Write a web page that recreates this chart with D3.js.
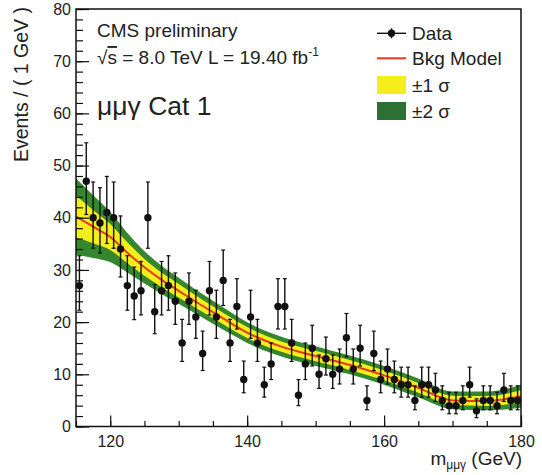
<!DOCTYPE html>
<html>
<head>
<meta charset="utf-8">
<script src="https://cdn.jsdelivr.net/npm/d3@7"></script>
<style>
  html, body { margin: 0; padding: 0; background: #fff; }
  svg { display: block; font-family: "Liberation Sans", Arial, Helvetica, sans-serif; }
</style>
</head>
<body>
<svg id="chart" width="542" height="475"></svg>
<script>
// ---- Data ----
const binCenters = d3.range(115.5, 180, 1);
const counts = [27, 47, 40, 39, 41, 40, 34, 27, 25, 26,
                40, 22, 26, 27, 24, 16, 24, 21, 14, 26,
                21, 28, 16, 23, 9, 21, 16, 8, 12, 23,
                23, 16, 6, 12, 15, 10, 13, 10, 11, 17,
                11, 15, 5, 14, 9, 11, 9, 8, 8, 5,
                8, 8, 7, 5, 4, 4, 5, 8, 3, 5,
                5, 4, 7, 5, 5];

const bandMass  = [115, 117.5, 120, 122.5, 125, 127.5, 130, 132.5, 135, 137.5, 140, 145, 150, 155, 160, 165, 170, 175, 180];
const bkgCenter = [40.2, 38.3, 36.3, 33.3, 30.5, 28.1, 26.0, 23.9, 21.9, 19.9, 18.0, 15.3, 13.5, 11.8, 9.8, 7.4, 5.0, 4.9, 5.8];
const sigma1    = [4.0, 3.2, 2.5, 2.0, 1.6, 1.4, 1.3, 1.2, 1.15, 1.1, 1.05, 1.0, 1.0, 0.95, 0.95, 0.95, 0.9, 0.95, 1.15];
const sigma2    = [7.3, 6.0, 4.8, 3.8, 3.1, 2.7, 2.5, 2.3, 2.2, 2.1, 2.0, 1.9, 1.9, 1.8, 1.8, 1.8, 1.7, 1.8, 2.2];

const yMajorTicks = [0, 10, 20, 30, 40, 50, 60, 70, 80];
const xMajorTicks = [120, 140, 160, 180];

const legendLabels = ["Data", "Bkg Model", "\u00b11 \u03c3", "\u00b12 \u03c3"];

// ---- Layout ----
const svg = d3.select("#chart");
const pLeft = 76, pRight = 521, pTop = 9, pBottom = 426.5;
const x = d3.scaleLinear().domain([115, 180]).range([pLeft, pRight]);
const y = d3.scaleLinear().domain([0, 80]).range([pBottom, pTop]);

const colYellow = "#f4ef1c", colGreen = "#34862f", colRed = "#e63a1e";

// Bands
const band = bandMass.map((m, i) => ({m, c: bkgCenter[i], s1: sigma1[i], s2: sigma2[i]}));
const curve = d3.curveMonotoneX;
svg.append("path").datum(band)
  .attr("d", d3.area().curve(curve).x(d => x(d.m)).y0(d => y(d.c - d.s2)).y1(d => y(d.c + d.s2)))
  .attr("fill", colGreen);
svg.append("path").datum(band)
  .attr("d", d3.area().curve(curve).x(d => x(d.m)).y0(d => y(d.c - d.s1)).y1(d => y(d.c + d.s1)))
  .attr("fill", colYellow);
svg.append("path").datum(band)
  .attr("d", d3.line().curve(curve).x(d => x(d.m)).y(d => y(d.c)))
  .attr("fill", "none").attr("stroke", colRed).attr("stroke-width", 2);

// Data with Poisson (Garwood-like) error bars
const data = binCenters.map((m, i) => {
  const n = counts[i];
  const s = Math.sqrt(n + 0.25);
  return {m, n, lo: n - s + 0.5, hi: n + s + 0.5};
});
const gData = svg.append("g");
const pts = gData.selectAll("g.pt").data(data).join("g").attr("class", "pt");
pts.append("line")
  .attr("x1", d => x(d.m)).attr("x2", d => x(d.m))
  .attr("y1", d => y(d.lo)).attr("y2", d => y(d.hi))
  .attr("stroke", "#111").attr("stroke-width", 1.4);
pts.append("line")
  .attr("x1", d => x(d.m) - 2).attr("x2", d => x(d.m) + 2)
  .attr("y1", d => y(d.hi)).attr("y2", d => y(d.hi))
  .attr("stroke", "#111").attr("stroke-width", 1.2);
pts.append("line")
  .attr("x1", d => x(d.m) - 2).attr("x2", d => x(d.m) + 2)
  .attr("y1", d => y(d.lo)).attr("y2", d => y(d.lo))
  .attr("stroke", "#111").attr("stroke-width", 1.2);
pts.append("circle")
  .attr("cx", d => x(d.m)).attr("cy", d => y(d.n)).attr("r", 3.7)
  .attr("fill", "#111");

// Axes
function styleAxis(g) {
  g.select(".domain").remove();
  g.selectAll("line").attr("stroke", "#111").attr("stroke-width", 1.2);
  g.selectAll("text").attr("font-size", 16).attr("fill", "#222")
    .attr("font-family", "Liberation Sans, Arial, sans-serif");
}
svg.append("g").attr("transform", `translate(${pLeft},0)`)
  .call(d3.axisLeft(y).tickValues(d3.range(0, 81, 2)).tickSize(-7).tickFormat(""))
  .call(styleAxis);
svg.append("g").attr("transform", `translate(${pLeft},0)`)
  .call(d3.axisLeft(y).tickValues(yMajorTicks).tickSize(-13).tickPadding(5).tickFormat(d3.format("d")))
  .call(styleAxis);
svg.append("g").attr("transform", `translate(0,${pBottom})`)
  .call(d3.axisBottom(x).tickValues(d3.range(115, 181, 5)).tickSize(-5.5).tickFormat(""))
  .call(styleAxis);
svg.append("g").attr("transform", `translate(0,${pBottom})`)
  .call(d3.axisBottom(x).tickValues(xMajorTicks).tickSize(-11).tickPadding(9).tickFormat(d3.format("d")))
  .call(styleAxis);

// Frame
svg.append("rect").attr("x", pLeft).attr("y", pTop).attr("width", pRight - pLeft).attr("height", pBottom - pTop)
  .attr("fill", "none").attr("stroke", "#111").attr("stroke-width", 1.5);

// Axis titles
svg.append("text")
  .attr("transform", `translate(28,${pTop - 2}) rotate(-90)`)
  .attr("text-anchor", "end").attr("font-size", 19.5).attr("fill", "#222")
  .text("Events / ( 1 GeV )");

const xt = svg.append("text").attr("x", 522).attr("y", 465).attr("text-anchor", "end")
  .attr("font-size", 19).attr("fill", "#222");
xt.append("tspan").text("m");
xt.append("tspan").attr("font-size", 12).attr("dy", 3.5).text("\u03bc\u03bc\u03b3");
xt.append("tspan").attr("dy", -3.5).text(" (GeV)");

// Annotations
svg.append("text").attr("x", 97).attr("y", 37).attr("font-size", 19).attr("fill", "#222").text("CMS preliminary");
const t2 = svg.append("text").attr("x", 97).attr("y", 64).attr("font-size", 19).attr("fill", "#222");
t2.append("tspan").text("\u221a");
t2.append("tspan").attr("style", "text-decoration: overline").text("s");
t2.append("tspan").text(" = 8.0 TeV L = 19.40 fb");
t2.append("tspan").attr("font-size", 12).attr("dy", -8).text("-1");
svg.append("text").attr("x", 97).attr("y", 115).attr("font-size", 26.5).attr("fill", "#222").text("\u03bc\u03bc\u03b3 Cat 1");

// Legend
const lg = svg.append("g");
const lx0 = 377, lx1 = 406, ltx = 412;
const rowY = [33.3, 58.3, 85, 111];
lg.append("line").attr("x1", lx0).attr("x2", lx1).attr("y1", rowY[0]).attr("y2", rowY[0]).attr("stroke", "#111").attr("stroke-width", 1.4);
lg.append("line").attr("x1", (lx0 + lx1) / 2).attr("x2", (lx0 + lx1) / 2).attr("y1", rowY[0] - 5).attr("y2", rowY[0] + 5).attr("stroke", "#111").attr("stroke-width", 1.4);
lg.append("circle").attr("cx", (lx0 + lx1) / 2).attr("cy", rowY[0]).attr("r", 3.7).attr("fill", "#111");
lg.append("line").attr("x1", lx0).attr("x2", lx1).attr("y1", rowY[1]).attr("y2", rowY[1]).attr("stroke", colRed).attr("stroke-width", 2);
lg.append("rect").attr("x", lx0).attr("y", rowY[2] - 9).attr("width", lx1 - lx0).attr("height", 18).attr("fill", colYellow);
lg.append("rect").attr("x", lx0).attr("y", rowY[3] - 9).attr("width", lx1 - lx0).attr("height", 18).attr("fill", "#2e7033");
lg.selectAll("text.lt").data(legendLabels).join("text").attr("class", "lt")
  .attr("x", ltx).attr("y", (d, i) => rowY[i] + 6.5)
  .attr("font-size", 19).attr("fill", "#222").text(d => d);
</script>
</body>
</html>
